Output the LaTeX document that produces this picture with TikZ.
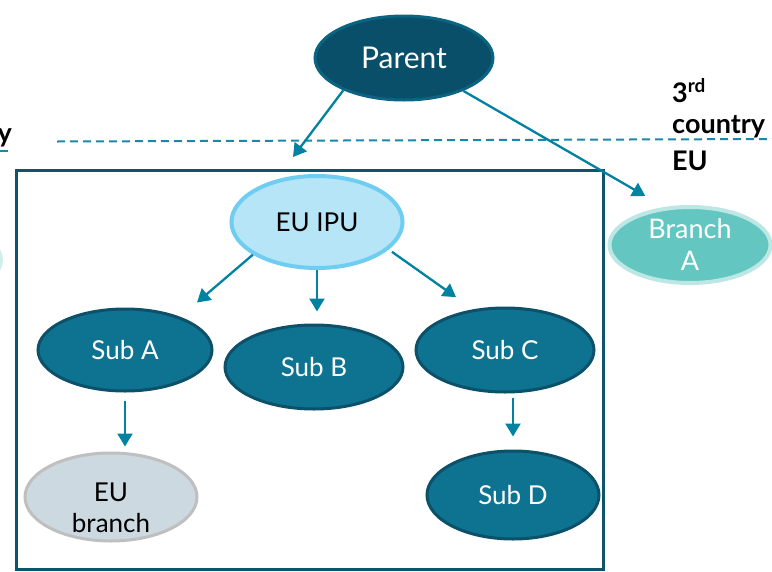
\documentclass[tikz,border=0pt]{standalone}
\usepackage{fontspec}
\setmainfont{Lato}
\usetikzlibrary{shapes.geometric,arrows.meta}

\definecolor{parentfill}{HTML}{0A4F69}
\definecolor{parentedge}{HTML}{0B6482}
\definecolor{subfill}{HTML}{0E7391}
\definecolor{subedge}{HTML}{0C5069}
\definecolor{ipufill}{HTML}{B6E5F8}
\definecolor{ipuedge}{HTML}{6ECDF0}
\definecolor{brfill}{HTML}{63C6C1}
\definecolor{bredge}{HTML}{BDE7E4}
\definecolor{eubfill}{HTML}{CCD9E0}
\definecolor{eubedge}{HTML}{BFBFBF}
\definecolor{arrowc}{HTML}{0082A0}
\definecolor{boxc}{HTML}{0F546E}
\definecolor{dashc}{HTML}{1A88A8}

\tikzset{
  blob/.style={ellipse, inner sep=0pt, line width=3pt, align=center,
    font=\fontsize{26}{31}\selectfont},
  subnode/.style={blob, fill=subfill, draw=subedge, text=white},
  link/.style={draw=arrowc, line width=2.3pt,
    -{Triangle[length=13pt,width=15pt]}},
  tag/.style={font=\bfseries\fontsize{27}{31}\selectfont, inner sep=0pt}
}

\begin{document}
\begin{tikzpicture}[x=1pt,y=-1pt]
  \useasboundingbox (0,0) rectangle (772,571);
  \clip (0,0) rectangle (772,571);
  \fill[white] (0,0) rectangle (772,571);

  % border between third country and EU
  \draw[dashc, line width=2pt, dash pattern=on 8pt off 5pt] (57,141.5) -- (772,139);
  \draw[dashc, line width=2pt] (0,151) -- (8,151);
  \node[tag, anchor=base east] (leftlbl) at (12,142) {country};
  \node[blob, fill=bredge!70, minimum width=166pt, minimum height=80pt, line width=0pt] (leftbr) at (-80,260) {};

  \node[tag, anchor=base west] (t3) at (672,102) {3\textsuperscript{rd}};
  \node[tag, anchor=base west] (tc) at (672,133) {country};
  \node[tag, anchor=base west] (teu) at (672,170) {EU};

  % EU group
  \draw[boxc, line width=3pt] (16,170.5) rectangle (603,569);

  \node[blob, fill=parentfill, draw=parentedge, text=white,
        font=\fontsize{30}{34}\selectfont,
        minimum width=178pt, minimum height=84pt] (parent) at (404,58) {Parent};
  \node[blob, fill=ipufill, draw=ipuedge, line width=4pt,
        minimum width=171pt, minimum height=92pt] (ipu) at (317,222) {EU IPU};
  \node[blob, fill=brfill, draw=bredge, line width=4pt, text=white,
        font=\fontsize{27}{32}\selectfont,
        minimum width=161pt, minimum height=76pt] (branchA) at (690,245) {Branch\\A};

  \node[subnode, minimum width=174pt, minimum height=82pt] (subA) at (125,350) {Sub A};
  \node[subnode, minimum width=178pt, minimum height=84pt] (subB) at (314,367) {Sub B};
  \node[subnode, minimum width=178pt, minimum height=84pt] (subC) at (505,350) {Sub C};
  \node[subnode, minimum width=172pt, minimum height=88pt] (subD) at (513,495) {Sub D};
  \node[blob, fill=eubfill, draw=eubedge, text=black,
        minimum width=172pt, minimum height=88pt] (eub) at (111,497)
        {\raisebox{-20pt}[0pt][0pt]{\begin{tabular}{@{}c@{}}EU\\branch\end{tabular}}};

  \coordinate (intoEU) at (293,157);

  % connectors
  \draw[link] (parent.208) -- (intoEU);
  \draw[link, shorten >=22pt] (parent.331) -- (branchA.124);
  \draw[link, shorten >=22pt] (ipu.207) -- (subA.31);
  \draw[link, shorten >=12pt] (ipu.south) -- (ipu.south |- subB.north);
  \draw[link, shorten <=4pt, shorten >=21pt] (ipu.339) -- (subC.128);
  \draw[link, shorten <=8pt, shorten >=5pt] (subA.south) -- (subA.south |- eub.north);
  \draw[link, shorten <=4pt, shorten >=13pt] (subC.south -| subD.north) -- (subD.north);
\end{tikzpicture}
\end{document}
